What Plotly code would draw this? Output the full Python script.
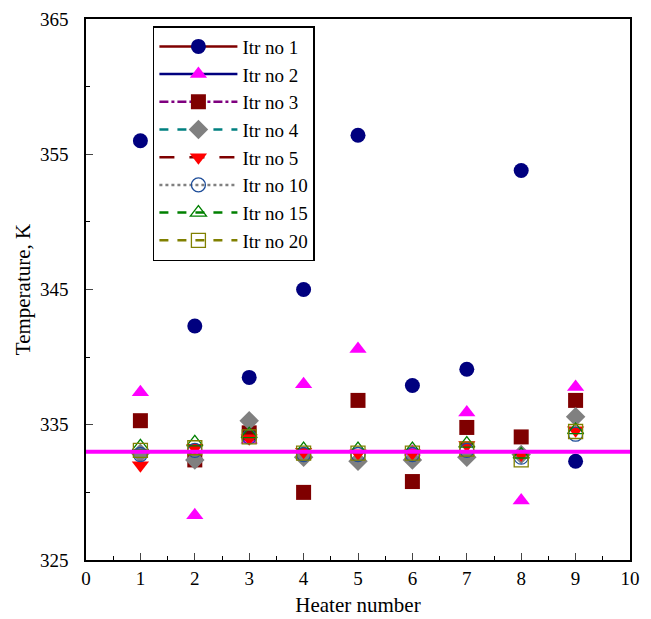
import plotly.graph_objects as go

heaters = [1, 2, 3, 4, 5, 6, 7, 8, 9]
itr1 = [356.0, 342.3, 338.5, 345.0, 356.4, 337.9, 339.1, 353.8, 332.3]
itr2 = [337.4, 328.3, 333.9, 338.0, 340.6, 333.0, 335.9, 329.4, 337.8]
itr3 = [335.3, 332.4, 334.4, 330.0, 336.8, 330.8, 334.8, 334.1, 336.8]
itr4 = [332.9, 332.4, 335.3, 332.6, 332.3, 332.4, 332.6, 332.8, 335.6]
itr5 = [332.0, 333.3, 334.0, 333.0, 332.9, 332.9, 333.5, 332.8, 334.6]
itr10 = [332.8, 333.1, 334.1, 332.8, 332.8, 332.8, 333.1, 332.6, 334.3]
itr15 = [333.4, 333.7, 334.3, 333.2, 333.2, 333.2, 333.6, 332.8, 334.6]
itr20 = [333.1, 333.3, 334.1, 332.9, 332.9, 332.9, 333.2, 332.4, 334.5]
target = 333.0

series = [
    ("Itr no 1", itr1, "circle", "#00007f", "#7f0000", "solid"),
    ("Itr no 2", itr2, "triangle-up", "#ff00ff", "#00007f", "solid"),
    ("Itr no 3", itr3, "square", "#7f0000", "#7f007f", "dashdot"),
    ("Itr no 4", itr4, "diamond", "#808080", "#008080", "dash"),
    ("Itr no 5", itr5, "triangle-down", "#ff0000", "#7f0000", "longdash"),
    ("Itr no 10", itr10, "circle-open", "#1f4e9a", "#808080", "dot"),
    ("Itr no 15", itr15, "triangle-up-open", "#008000", "#008000", "dash"),
    ("Itr no 20", itr20, "square-open", "#808000", "#808000", "dash"),
]

fig = go.Figure()
for name, ys, sym, mcol, lcol, dash in series:
    open_ = sym.endswith("open")
    size = 14 if open_ else 15
    marker = dict(symbol=sym, size=size, color=mcol,
                  line=dict(color=mcol, width=1.3 if open_ else 0))
    fig.add_trace(go.Scatter(x=heaters, y=ys, mode="markers", name=name,
                             marker=marker, showlegend=False))
    fig.add_trace(go.Scatter(x=[None], y=[None], mode="lines+markers", name=name,
                             marker=marker, line=dict(color=lcol, width=2.5, dash=dash)))

fig.add_shape(type="line", xref="paper", x0=0, x1=1, yref="y", y0=target, y1=target,
              line=dict(color="#ff00ff", width=4))

font = "'Liberation Serif', 'Times New Roman', Times, serif"
fig.update_layout(
    width=651, height=619,
    margin=dict(l=86, r=21, t=19, b=59, autoexpand=False),
    paper_bgcolor="white", plot_bgcolor="white",
    font=dict(family=font, size=18, color="black"),
    legend=dict(x=0.123, y=0.987, xanchor="left", yanchor="top",
                bordercolor="black", borderwidth=1.5, bgcolor="white",
                itemwidth=78,
                font=dict(family=font, size=19)),
)
fig.update_xaxes(range=[0, 10], dtick=1, tick0=0, ticks="inside", ticklen=7,
                 minor=dict(dtick=0.5, ticks="inside", ticklen=4, tickcolor="black"),
                 showline=True, linecolor="black", linewidth=1.5, mirror=True,
                 showgrid=False, zeroline=False, tickfont=dict(size=19),
                 automargin=False,
                 title=dict(text="Heater number", font=dict(size=21), standoff=10))
fig.update_yaxes(range=[325, 365], dtick=10, tick0=325, ticks="inside", ticklen=7,
                 minor=dict(dtick=5, ticks="inside", ticklen=4, tickcolor="black"),
                 showline=True, linecolor="black", linewidth=1.5, mirror=True,
                 showgrid=False, zeroline=False, tickfont=dict(size=19),
                 ticklabelstandoff=12, automargin=False,
                 title=dict(text="Temperature, K", font=dict(size=21), standoff=4))

fig.write_html("out.html")
